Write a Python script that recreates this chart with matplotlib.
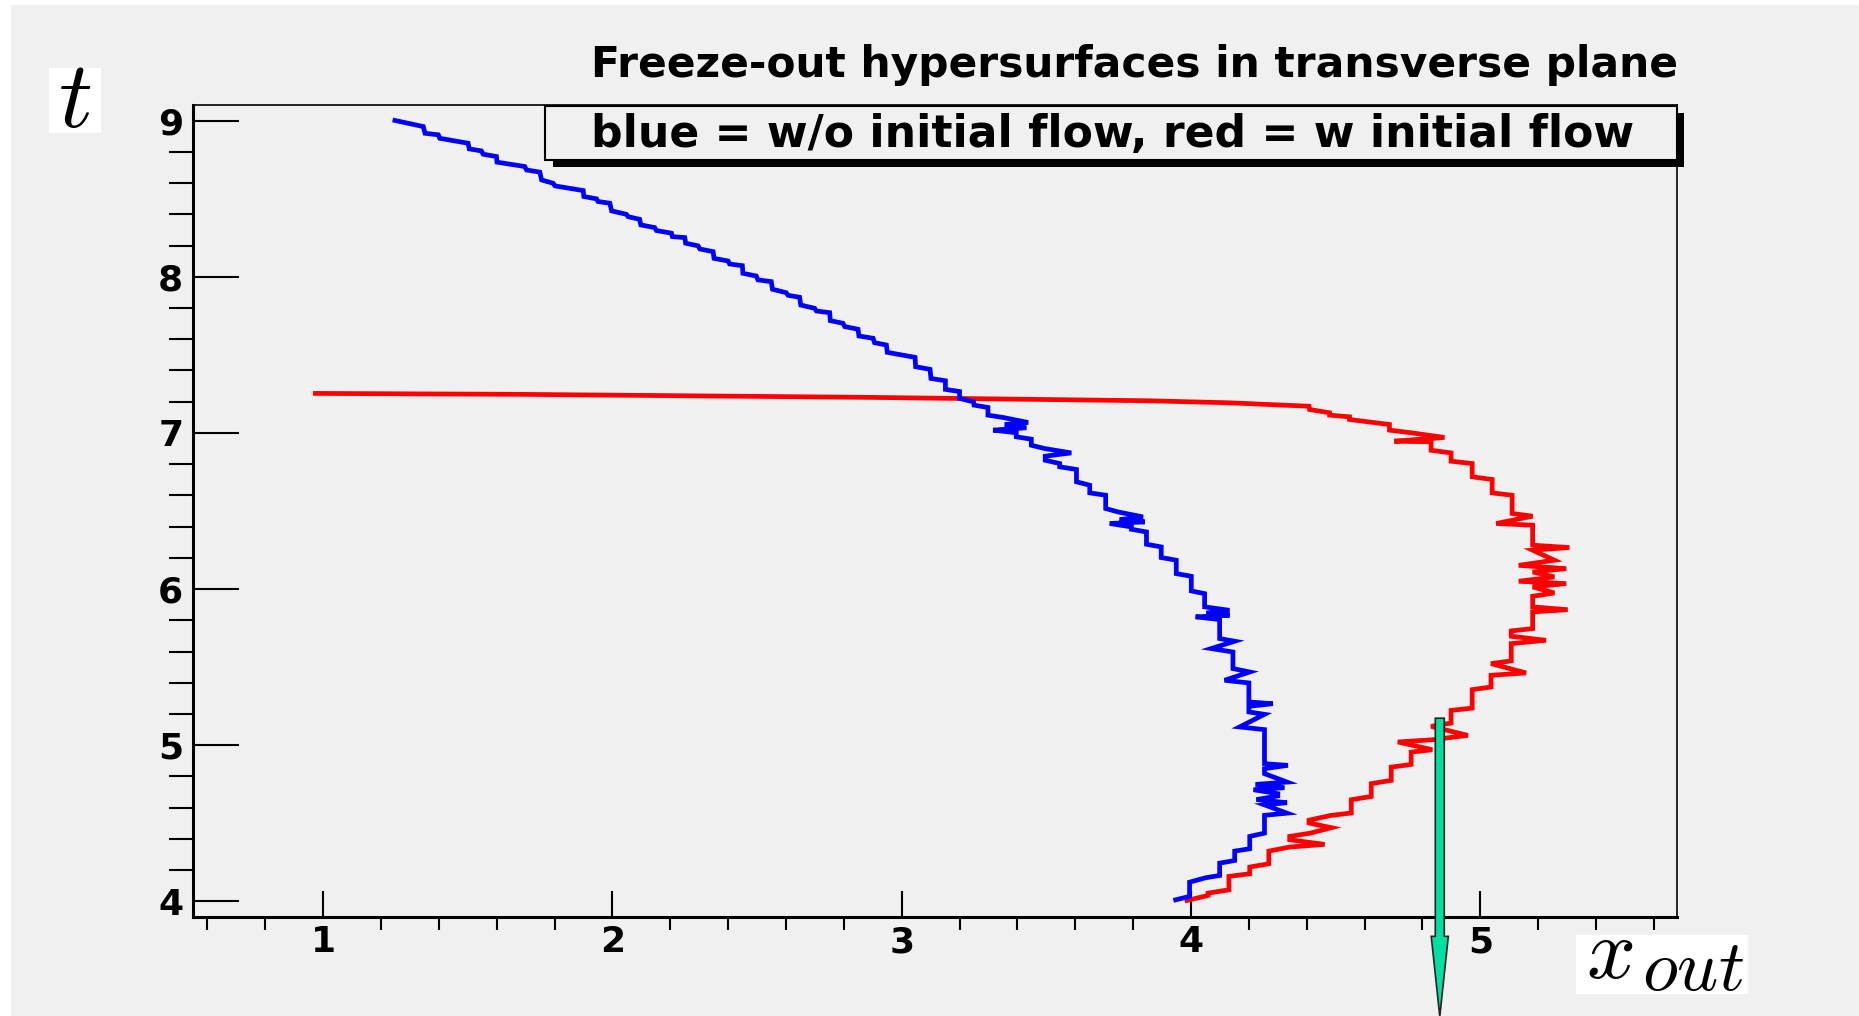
import matplotlib
matplotlib.use("Agg")
import matplotlib.pyplot as plt
from matplotlib.patches import Rectangle, FancyArrow
from matplotlib.ticker import MultipleLocator

plt.rcParams.update({
    "font.family": ["DejaVu Sans"],
    "font.weight": "bold",
    "mathtext.fontset": "cm",
})

GREY = "#f0f0f0"
W, H = 1859, 1016

# freeze-out curve without initial flow (x_out, t)
blue_x = [1.248, 1.346, 1.352, 1.398, 1.403, 1.501, 1.505, 1.547, 1.553, 1.599,
          1.601, 1.697, 1.703, 1.749, 1.755, 1.795, 1.801, 1.899, 1.901, 1.945,
          1.950, 1.991, 1.997, 2.048, 2.054, 2.094, 2.098, 2.146, 2.152, 2.204,
          2.207, 2.250, 2.253, 2.296, 2.302, 2.348, 2.351, 2.400, 2.405, 2.449,
          2.451, 2.497, 2.503, 2.549, 2.553, 2.601, 2.607, 2.647, 2.651, 2.699,
          2.705, 2.751, 2.753, 2.797, 2.803, 2.849, 2.852, 2.901, 2.906, 2.947,
          2.950, 3.046, 3.048, 3.098, 3.101, 3.151, 3.151, 3.200, 3.200, 3.248,
          3.250, 3.298, 3.298, 3.350, 3.437, 3.356, 3.431, 3.316, 3.396, 3.396,
          3.448, 3.448, 3.494, 3.586, 3.496, 3.496, 3.546, 3.546, 3.604, 3.604,
          3.650, 3.650, 3.705, 3.705, 3.748, 3.834, 3.753, 3.840, 3.719, 3.794,
          3.794, 3.846, 3.846, 3.897, 3.897, 3.949, 3.949, 4.001, 4.001, 4.047,
          4.047, 4.133, 4.053, 4.133, 4.016, 4.099, 4.099, 4.151, 4.070, 4.145,
          4.145, 4.203, 4.116, 4.200, 4.200, 4.283, 4.200, 4.200, 4.254, 4.168,
          4.254, 4.254, 4.335, 4.254, 4.254, 4.332, 4.223, 4.323, 4.216, 4.300,
          4.300, 4.226, 4.332, 4.254, 4.332, 4.254, 4.254, 4.203, 4.203, 4.151,
          4.151, 4.099, 4.099, 4.050, 3.995, 3.995, 3.947]
blue_t = [9.001, 8.962, 8.919, 8.909, 8.887, 8.855, 8.819, 8.806, 8.785, 8.770,
          8.734, 8.706, 8.684, 8.670, 8.620, 8.599, 8.582, 8.552, 8.514, 8.499,
          8.482, 8.471, 8.422, 8.400, 8.385, 8.368, 8.332, 8.315, 8.296, 8.279,
          8.257, 8.251, 8.215, 8.198, 8.178, 8.161, 8.118, 8.101, 8.082, 8.071,
          8.022, 8.005, 7.980, 7.969, 7.920, 7.898, 7.881, 7.869, 7.819, 7.798,
          7.781, 7.770, 7.719, 7.702, 7.681, 7.664, 7.621, 7.606, 7.578, 7.563,
          7.516, 7.484, 7.424, 7.407, 7.349, 7.334, 7.279, 7.265, 7.221, 7.199,
          7.178, 7.163, 7.114, 7.099, 7.067, 7.054, 7.033, 7.018, 7.001, 6.975,
          6.960, 6.921, 6.900, 6.872, 6.851, 6.825, 6.804, 6.783, 6.766, 6.687,
          6.665, 6.616, 6.601, 6.516, 6.494, 6.462, 6.445, 6.430, 6.420, 6.398,
          6.383, 6.366, 6.287, 6.270, 6.202, 6.185, 6.099, 6.082, 5.988, 5.971,
          5.886, 5.864, 5.847, 5.832, 5.822, 5.805, 5.683, 5.666, 5.619, 5.597,
          5.491, 5.469, 5.416, 5.399, 5.277, 5.266, 5.249, 5.213, 5.198, 5.117,
          5.100, 4.882, 4.871, 4.850, 4.818, 4.764, 4.749, 4.728, 4.715, 4.690,
          4.675, 4.652, 4.632, 4.618, 4.565, 4.551, 4.437, 4.416, 4.337, 4.322,
          4.262, 4.245, 4.166, 4.151, 4.123, 4.032, 4.010]

# freeze-out curve with initial flow
red_x = [0.973, 1.683, 2.871, 3.851, 4.131, 4.408, 4.410, 4.479, 4.479, 4.548,
         4.548, 4.686, 4.686, 4.761, 4.876, 4.703, 4.830, 4.830, 4.899, 4.899,
         4.972, 4.972, 5.041, 5.041, 5.110, 5.110, 5.181, 5.055, 5.181, 5.181,
         5.308, 5.181, 5.256, 5.133, 5.297, 5.181, 5.256, 5.133, 5.297, 5.181,
         5.256, 5.181, 5.181, 5.302, 5.181, 5.181, 5.107, 5.107, 5.227, 5.107,
         5.107, 5.037, 5.158, 5.037, 5.037, 4.972, 4.972, 4.899, 4.899, 4.830,
         4.957, 4.834, 4.715, 4.834, 4.761, 4.761, 4.692, 4.692, 4.623, 4.623,
         4.554, 4.554, 4.485, 4.408, 4.408, 4.485, 4.412, 4.341, 4.341, 4.462,
         4.341, 4.269, 4.269, 4.203, 4.203, 4.131, 4.131, 4.059, 4.059, 3.986]
red_t = [7.253, 7.247, 7.228, 7.206, 7.193, 7.171, 7.150, 7.129, 7.114, 7.103,
         7.086, 7.054, 7.018, 7.001, 6.971, 6.947, 6.943, 6.889, 6.872, 6.819,
         6.804, 6.719, 6.702, 6.616, 6.601, 6.484, 6.467, 6.420, 6.409, 6.281,
         6.266, 6.249, 6.185, 6.152, 6.131, 6.110, 6.078, 6.050, 6.035, 6.014,
         5.975, 5.954, 5.886, 5.868, 5.854, 5.747, 5.732, 5.698, 5.672, 5.651,
         5.540, 5.523, 5.463, 5.448, 5.373, 5.356, 5.238, 5.223, 5.142, 5.121,
         5.063, 5.035, 5.021, 4.971, 4.956, 4.877, 4.860, 4.775, 4.754, 4.672,
         4.651, 4.566, 4.551, 4.520, 4.502, 4.472, 4.437, 4.416, 4.395, 4.365,
         4.348, 4.322, 4.241, 4.220, 4.177, 4.160, 4.074, 4.053, 4.038, 4.006]

x_ticks = [1, 2, 3, 4, 5]
t_ticks = [4, 5, 6, 7, 8, 9]

# arrow marking x_out ~ 4.86
arrow_x, arrow_top, arrow_tip = 4.860, 5.173, 3.263


def fx(px):
    return px / W


def fy(py):
    return 1 - py / H


fig = plt.figure(figsize=(W / 100, H / 100), dpi=100, facecolor="white")
fig.add_artist(Rectangle((fx(11), 0), 1 - fx(11), fy(5), transform=fig.transFigure,
                         facecolor=GREY, edgecolor="none", zorder=0))

ax = fig.add_axes([fx(193), fy(917), fx(1677) - fx(193), fy(105) - fy(917)])
ax.set_facecolor(GREY)
ax.set_xlim(0.55, 5.68)
ax.set_ylim(3.9, 9.1)

ax.plot(red_x, red_t, color="red", lw=3.4, solid_joinstyle="miter", zorder=3)
ax.plot(blue_x, blue_t, color="blue", lw=3.4, solid_joinstyle="miter", zorder=4)

ax.set_xticks(x_ticks)
ax.set_yticks(t_ticks)
ax.xaxis.set_minor_locator(MultipleLocator(0.2))
ax.yaxis.set_minor_locator(MultipleLocator(0.2))
ax.tick_params(axis="both", direction="in", width=1.5, labelsize=26, top=False, right=False)
ax.tick_params(axis="y", which="major", length=33, pad=7)
ax.tick_params(axis="y", which="minor", length=17, width=1.5)
ax.tick_params(axis="x", which="major", length=19, pad=6)
ax.tick_params(axis="x", which="minor", length=9.5, width=1.5)
for lab in ax.get_xticklabels() + ax.get_yticklabels():
    lab.set_fontweight("bold")

for side in ["left", "bottom"]:
    ax.spines[side].set_linewidth(2.2)
for side in ["top", "right"]:
    ax.spines[side].set_linewidth(1.2)

arrow = FancyArrow(arrow_x, arrow_top, 0, arrow_tip - arrow_top, width=0.031,
                   head_width=0.059, head_length=0.513, length_includes_head=True,
                   facecolor="#00e0a0", edgecolor="#222222", lw=1.2,
                   clip_on=False, zorder=10)
ax.add_patch(arrow)

# title
fig.text(fx(1678), fy(77), "Freeze-out hypersurfaces in transverse plane",
         ha="right", va="baseline", fontsize=30.5, fontweight="bold")

# legend box with shadow
fig.add_artist(Rectangle((fx(553), fy(167)), fx(1684) - fx(553), fy(113) - fy(167),
                         transform=fig.transFigure, facecolor="black",
                         edgecolor="none", zorder=5))
fig.add_artist(Rectangle((fx(545), fy(160)), fx(1677) - fx(545), fy(106) - fy(160),
                         transform=fig.transFigure, facecolor=GREY,
                         edgecolor="black", lw=1.5, zorder=6))
fig.text(fx(1113), fy(147), "blue = w/o initial flow, red = w initial flow",
         ha="center", va="baseline", fontsize=31.8, fontweight="bold", zorder=7)

# axis labels in white boxes
fig.add_artist(Rectangle((fx(49), fy(133)), fx(101) - fx(49), fy(68) - fy(133),
                         transform=fig.transFigure, facecolor="white",
                         edgecolor="none", zorder=5))
fig.text(fx(75), fy(101), r"$t$", ha="center", va="center", fontsize=68, zorder=6)

fig.add_artist(Rectangle((fx(1576), fy(994)), fx(1748) - fx(1576), fy(935) - fy(994),
                         transform=fig.transFigure, facecolor="white",
                         edgecolor="none", zorder=5))
fig.text(fx(1586), fy(978), r"$x$", ha="left", va="baseline", fontsize=62, zorder=6)
fig.text(fx(1642), fy(990), r"$out$", ha="left", va="baseline", fontsize=52, zorder=6)

fig.savefig("out.png", dpi=100, facecolor="white")
